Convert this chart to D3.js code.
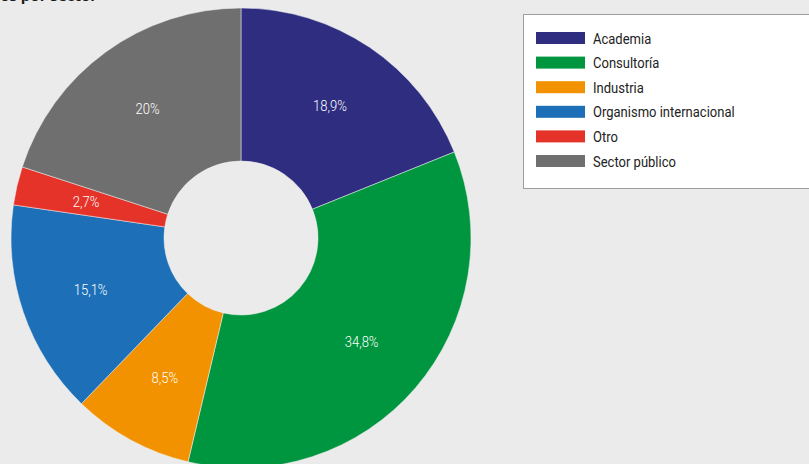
<!DOCTYPE html>
<html>
<head>
<meta charset="utf-8">
<script src="https://cdn.jsdelivr.net/npm/d3@7"></script>
<style>
  html, body { margin: 0; padding: 0; background: #ebebeb; }
  svg { display: block; }
  text { font-family: Roboto, "Open Sans", sans-serif; }
</style>
</head>
<body>
<svg id="chart" width="809" height="464"></svg>
<script>
// Sector breakdown (percent)
const categories = ["Academia", "Consultoría", "Industria", "Organismo internacional", "Otro", "Sector público"];
const values = [18.9, 34.8, 8.5, 15.1, 2.7, 20];
const valueLabels = ["18,9%", "34,8%", "8,5%", "15,1%", "2,7%", "20%"];
const colors = ["#2e2d7f", "#009640", "#f39200", "#1d70b7", "#e5332a", "#706f6f"];

const svg = d3.select("#chart");
const W = 809, H = 464;

svg.append("rect").attr("width", W).attr("height", H).attr("fill", "#ebebeb");

// Title, mostly above the top edge of the frame
svg.append("text")
  .attr("x", 97).attr("y", 1)
  .attr("text-anchor", "end")
  .attr("font-size", 15).attr("font-weight", "bold")
  .attr("fill", "#1a1a1a")
  .style("font-family", "'Open Sans', sans-serif")
  .text("Encuestados por sector");

const cx = 241, cy = 238, outerR = 230, innerR = 77, labelR = 159;

const data = categories.map((c, i) => ({ name: c, value: values[i], label: valueLabels[i], color: colors[i] }));

const pie = d3.pie().value(d => d.value).sort(null);
const arc = d3.arc().innerRadius(innerR).outerRadius(outerR);
const labelArc = d3.arc().innerRadius(labelR).outerRadius(labelR);

const g = svg.append("g").attr("transform", `translate(${cx},${cy})`);
const arcs = pie(data);

g.selectAll("path.slice")
  .data(arcs)
  .join("path")
  .attr("class", "slice")
  .attr("d", arc)
  .attr("fill", d => d.data.color)
  .attr("stroke", "#f2f2f2")
  .attr("stroke-width", 0.5);

// Narrow lettering: horizontally compressed Roboto
g.selectAll("text.val")
  .data(arcs)
  .join("text")
  .attr("class", "val")
  .attr("transform", d => `translate(${labelArc.centroid(d)}) scale(0.9,1)`)
  .attr("text-anchor", "middle")
  .attr("dy", "0.35em")
  .attr("font-size", 14.5)
  .attr("font-weight", 300)
  .attr("fill", "#ffffff")
  .text(d => d.data.label);

// Legend
const legend = svg.append("g");
legend.append("rect")
  .attr("x", 523.5).attr("y", 14.5)
  .attr("width", 300).attr("height", 174)
  .attr("fill", "#ffffff")
  .attr("stroke", "#9d9d9d").attr("stroke-width", 1);

const rowY = d3.scalePoint().domain(categories).range([38, 161]);

const rows = legend.selectAll("g.row")
  .data(data)
  .join("g")
  .attr("class", "row")
  .attr("transform", d => `translate(0,${rowY(d.name)})`);

rows.append("rect")
  .attr("x", 536).attr("y", -6)
  .attr("width", 49).attr("height", 12)
  .attr("fill", d => d.color);

rows.append("text")
  .attr("transform", "translate(593,0) scale(0.84,1)")
  .attr("dy", "0.36em")
  .attr("font-size", 15.5)
  .attr("font-weight", 400)
  .attr("fill", "#222222")
  .text(d => d.name);
</script>
</body>
</html>
